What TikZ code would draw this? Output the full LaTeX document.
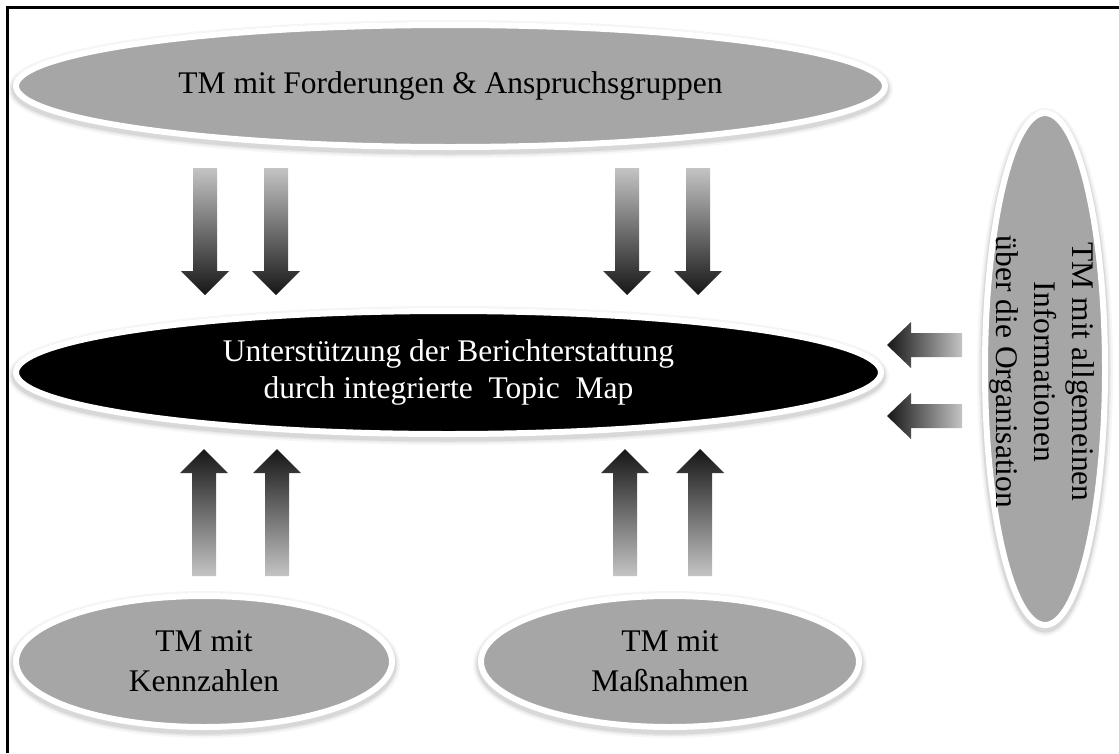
\documentclass[tikz,border=0pt]{standalone}
\usepackage{fontspec}
\setmainfont{Liberation Serif}
\usetikzlibrary{shapes.geometric}
\definecolor{ellgray}{HTML}{A6A6A6}
\definecolor{arrlight}{HTML}{C4C4C4}
\definecolor{arrdark}{HTML}{161616}
\newcommand{\downarr}[3]{%
  \shade[top color=arrlight, bottom color=arrdark]
    (#1-12,#2) -- (#1+12,#2) -- (#1+12,#3-24) -- (#1+24,#3-24) -- (#1,#3)
    -- (#1-24,#3-24) -- (#1-12,#3-24) -- cycle;}
\newcommand{\uparr}[3]{%
  \shade[top color=arrdark, bottom color=arrlight]
    (#1-12,#2) -- (#1+12,#2) -- (#1+12,#3+24) -- (#1+24,#3+24) -- (#1,#3)
    -- (#1-24,#3+24) -- (#1-12,#3+24) -- cycle;}
\newcommand{\leftarr}[3]{%
  \shade[left color=arrdark, right color=arrlight]
    (#2,#1-12) -- (#2,#1+12) -- (#3+24,#1+12) -- (#3+24,#1+23) -- (#3,#1)
    -- (#3+24,#1-23) -- (#3+24,#1-12) -- cycle;}
\begin{document}
\begin{tikzpicture}[x=1pt,y=-1pt,
  softshadow/.style={
    preaction={draw=black, line width=16pt, draw opacity=0.035, transform canvas={yshift=-3pt}},
    preaction={draw=black, line width=12pt, draw opacity=0.05, transform canvas={yshift=-3pt}},
    preaction={draw=black, line width=9pt, draw opacity=0.07, transform canvas={yshift=-3pt}}},
  ell/.style={ellipse, inner sep=0pt, softshadow, draw=white, line width=6pt, fill=ellgray,
    font=\fontsize{31.5}{37}\selectfont, align=center},
  mainell/.style={ell, fill=black, text=white}]
\useasboundingbox (0,0) rectangle (1119,753);
\fill[white] (0,0) rectangle (1119,753);
\coordinate (fbl) at (7,753);
\coordinate (ftl) at (7,7);
\coordinate (ftr) at (1119,7);
\draw[line width=3pt] (fbl) -- (ftl) -- (ftr);

\node[ell, minimum width=869pt, minimum height=122pt] (forder) at (450.5,86)
  {TM mit Forderungen \& Anspruchsgruppen};
\node[mainell, minimum width=865pt, minimum height=123pt] (main) at (448.5,372.5)
  {Unterstützung der Berichterstattung\\durch integrierte\ \ Topic\ \ Map};
\node[ell, minimum width=376pt, minimum height=131pt] (kenn) at (204,661.5)
  {TM mit\\[3pt]Kennzahlen};
\node[ell, minimum width=378pt, minimum height=131pt] (mass) at (670,661.5)
  {TM mit\\[3pt]Maßnahmen};
\node[ell, minimum width=120pt, minimum height=512pt] (info) at (1045,369) {};
\node[rotate=-90, font=\fontsize{31.5}{38}\selectfont, align=center, inner sep=0pt]
  (infotext) at (1042,372) {TM mit allgemeinen\\Informationen\\über die Organisation};

\downarr{205}{168}{295}
\downarr{276}{168}{295}
\downarr{627}{168}{295}
\downarr{698}{168}{295}
\uparr{204}{576}{449}
\uparr{277}{576}{449}
\uparr{625}{576}{449}
\uparr{700}{576}{449}
\leftarr{345}{962}{887}
\leftarr{416}{962}{887}
\end{tikzpicture}
\end{document}
